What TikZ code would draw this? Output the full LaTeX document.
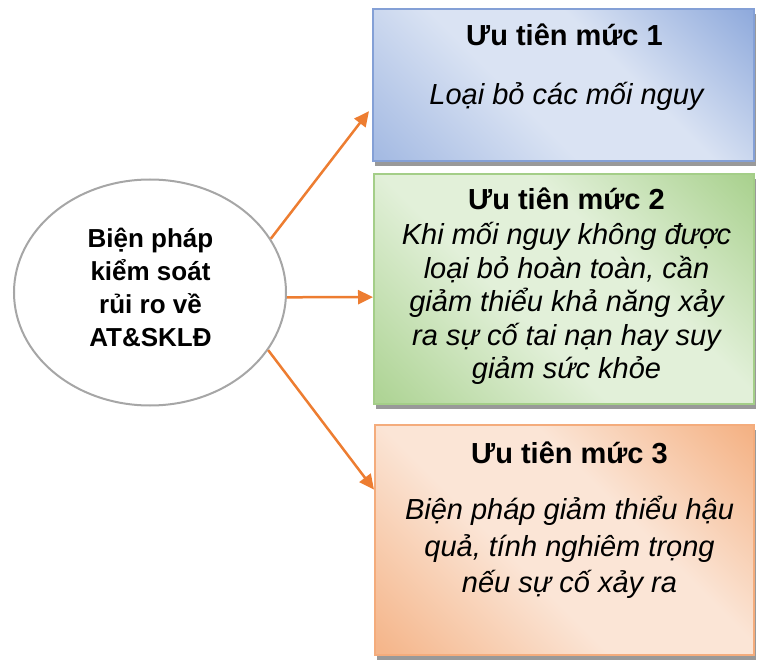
\documentclass[tikz,border=0pt]{standalone}
\usepackage{fontspec}
\setmainfont{Liberation Sans}
\usetikzlibrary{shapes.geometric,shadows,arrows.meta,calc}
\definecolor{bdark}{RGB}{143,170,220}
\definecolor{blight}{RGB}{218,227,243}
\definecolor{bline}{RGB}{132,160,214}
\definecolor{gdark}{RGB}{169,209,142}
\definecolor{glight}{RGB}{226,240,217}
\definecolor{gline}{RGB}{164,206,136}
\definecolor{odark}{RGB}{244,177,131}
\definecolor{olight}{RGB}{251,229,214}
\definecolor{oline}{RGB}{244,172,124}
\definecolor{arr}{RGB}{237,125,49}
\definecolor{ellline}{RGB}{166,166,166}
\pgfdeclarehorizontalshading{bshade}{100bp}{color(0bp)=(bdark!70!blight); color(16bp)=(bdark!70!blight); color(42bp)=(blight); color(60bp)=(blight); color(85bp)=(bdark); color(100bp)=(bdark)}
\pgfdeclarehorizontalshading{gshade}{100bp}{color(0bp)=(gdark!90!glight); color(16bp)=(gdark!90!glight); color(42bp)=(glight); color(60bp)=(glight); color(85bp)=(gdark); color(100bp)=(gdark)}
\pgfdeclarehorizontalshading{oshade}{100bp}{color(0bp)=(odark!90!olight); color(16bp)=(odark!90!olight); color(42bp)=(olight); color(60bp)=(olight); color(85bp)=(odark); color(100bp)=(odark)}
\begin{document}
\begin{tikzpicture}[x=1pt,y=-1pt,
  boxshape/.style={rectangle, line width=2pt, inner sep=0pt, shading angle=45,
    drop shadow={shadow xshift=2pt, shadow yshift=-5pt, fill=black, opacity=0.4}},
  ttl/.style={font=\fontsize{29pt}{33pt}\selectfont\bfseries, anchor=base, inner sep=0pt},
  bod/.style={font=\fontsize{29pt}{33pt}\selectfont\itshape, anchor=base, inner sep=0pt},
  etxt/.style={font=\fontsize{26pt}{33pt}\selectfont\bfseries, anchor=base, inner sep=0pt},
  conn/.style={draw=arr, line width=2.5pt, -{Triangle[length=15pt,width=14pt]}}
]
\useasboundingbox (0,0) rectangle (757,660);

% boxes
\node[boxshape, draw=bline, shading=bshade, minimum width=381pt, minimum height=152pt] (b1) at (563.5,85) {};
\node[boxshape, draw=gline, shading=gshade, minimum width=380pt, minimum height=230pt] (b2) at (564,289) {};
\node[boxshape, draw=oline, shading=oshade, minimum width=379pt, minimum height=230pt] (b3) at (564.5,540) {};

% ellipse
\node[ellipse, draw=ellline, fill=white, line width=2pt, minimum width=272pt, minimum height=226pt, inner sep=0pt] (ell) at (150,292.5) {};
\node[etxt] (e-1) at (150.5,247.7) {Biện pháp};
\node[etxt] (e-2) at (150.5,280) {kiểm soát};
\node[etxt] (e-3) at (150.5,313.3) {rủi ro về};
\node[etxt] (e-4) at (150.5,346) {AT\&SKLĐ};

% box 1 text
\node[ttl] (t1) at (564.5,46) {Ưu tiên mức 1};
\node[bod] (d1) at (566.5,105) {Loại bỏ các mối nguy};

% box 2 text
\node[ttl] (t2) at (566.5,210) {Ưu tiên mức 2};
\node[bod] (d2-1) at (566.5,245) {Khi mối nguy không được};
\node[bod] (d2-2) at (566.5,278.3) {loại bỏ hoàn toàn, cần};
\node[bod] (d2-3) at (566.5,311.7) {giảm thiểu khả năng xảy};
\node[bod] (d2-4) at (566.5,345) {ra sự cố tai nạn hay suy};
\node[bod] (d2-5) at (566.5,378.3) {giảm sức khỏe};

% box 3 text
\node[ttl] (t3) at (569.5,463) {Ưu tiên mức 3};
\node[bod] (d3-1) at (569.5,519.5) {Biện pháp giảm thiểu hậu};
\node[bod] (d3-2) at (569.5,556) {quả, tính nghiêm trọng};
\node[bod] (d3-3) at (569.5,592.3) {nếu sự cố xảy ra};

% connectors
\coordinate (a1) at ($(b1.south west)!0.33!(b1.north west)+(-3,0)$);
\coordinate (a2) at ($(b2.south west)!0.465!(b2.north west)$);
\coordinate (a3) at ($(b3.south west)!0.717!(b3.north west)$);
\draw[conn] (ell.24) -- (a1);
\draw[conn] (ell.-2) -- (a2);
\draw[conn] (ell.-26) -- (a3);
\end{tikzpicture}
\end{document}
